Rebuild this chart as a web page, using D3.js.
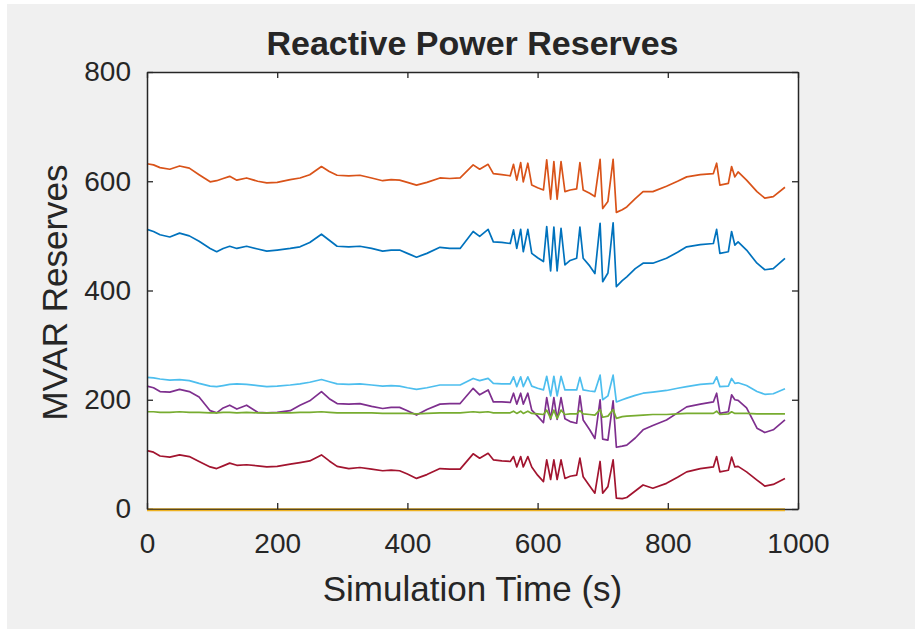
<!DOCTYPE html>
<html>
<head>
<meta charset="utf-8">
<script src="https://cdn.jsdelivr.net/npm/d3@7"></script>
<style>
  html, body { margin: 0; padding: 0; background: #ffffff; }
  svg { display: block; }
  text { font-family: "Liberation Sans", Arial, Helvetica, sans-serif; fill: #262626; }
</style>
</head>
<body>
<svg id="chart" width="915" height="629"></svg>
<script>
// ---------------- DATA ----------------
const chartTitle = "Reactive Power Reserves";
const xLabel = "Simulation Time (s)";
const yLabel = "MVAR Reserves";
const xTicks = [0, 200, 400, 600, 800, 1000];
const yTicks = [0, 200, 400, 600, 800];

const time = [0, 10, 20, 35, 50, 65, 80, 97, 107, 117, 127, 138, 153, 170, 184, 200, 220, 235, 250, 268,
  280, 292, 310, 327, 345, 362, 375, 388, 400, 414, 430, 450, 465, 481, 501, 511, 524, 532, 545, 558,
  563, 568, 574, 578, 585, 591, 600, 609, 614, 620, 625, 630, 636, 642, 650, 660, 665, 670, 680, 688,
  696, 700, 708, 716, 721, 730, 737, 750, 762, 777, 798, 815, 829, 850, 870, 875, 880, 893, 898, 903,
  908, 921, 937, 949, 962, 980];

const seriesBlue = [512, 508, 502, 498, 505, 500, 490, 477, 471, 477, 481, 477, 481, 476, 472, 474, 477, 480, 488, 503,
  492, 481, 480, 481, 477, 472, 474, 474, 468, 461, 468, 479, 477, 477, 508, 499, 512, 489, 488, 486,
  511, 477, 512, 471, 512, 468, 460, 453, 517, 436, 516, 436, 514, 447, 455, 459, 516, 459, 445, 431,
  523, 416, 432, 524, 407, 418, 425, 440, 450, 450, 459, 470, 480, 484, 486, 512, 468, 471, 508, 483,
  489, 474, 450, 438, 440, 459];

const seriesOrange = [632, 630, 625, 622, 628, 624, 612, 599, 601, 605, 609, 602, 606, 600, 597, 598, 603, 606, 612, 627,
  618, 611, 610, 611, 606, 601, 603, 602, 598, 593, 598, 606, 605, 606, 630, 622, 631, 614, 612, 610,
  631, 602, 634, 599, 633, 593, 588, 584, 639, 567, 636, 567, 636, 581, 584, 586, 634, 584, 578, 572,
  640, 550, 563, 640, 543, 548, 553, 568, 581, 581, 591, 600, 608, 612, 614, 633, 593, 596, 627, 608,
  617, 602, 581, 569, 572, 589];

const seriesYellow = time.map(() => 0);

const seriesPurple = [225, 222, 215, 214, 219, 215, 205, 180, 176, 185, 190, 183, 190, 177, 176, 177, 180, 190, 198, 215,
  202, 193, 192, 193, 188, 184, 186, 186, 180, 172, 182, 192, 193, 193, 221, 209, 218, 196, 196, 195,
  212, 192, 212, 192, 212, 181, 170, 158, 204, 164, 204, 164, 204, 165, 160, 157, 207, 163, 145, 129,
  200, 128, 126, 198, 113, 115, 117, 130, 145, 153, 163, 176, 187, 192, 196, 212, 175, 178, 209, 200,
  199, 185, 148, 140, 145, 163];

const seriesGreen = [178, 178, 177, 177, 178, 177, 177, 176, 176, 177, 177, 176, 177, 176, 176, 176, 176, 177, 177, 178,
  177, 176, 176, 176, 176, 175, 175, 175, 175, 174, 175, 176, 176, 176, 178, 177, 178, 176, 176, 176,
  179, 175, 179, 175, 179, 175, 174, 173, 181, 166, 181, 166, 181, 173, 174, 174, 180, 174, 173, 172,
  182, 168, 170, 182, 166, 169, 170, 171, 172, 173, 173, 174, 175, 175, 175, 179, 173, 174, 178, 175,
  175, 175, 174, 174, 174, 174];

const seriesLightBlue = [241, 240, 238, 236, 237, 235, 230, 225, 224, 226, 228, 229, 228, 226, 224, 225, 227, 229, 232, 237,
  233, 229, 228, 229, 227, 225, 226, 225, 222, 219, 222, 227, 227, 227, 239, 235, 239, 230, 229, 229,
  242, 224, 242, 224, 242, 225, 221, 218, 243, 207, 243, 207, 243, 218, 218, 218, 241, 218, 216, 215,
  245, 200, 207, 245, 196, 200, 203, 208, 212, 214, 217, 221, 224, 228, 230, 242, 224, 225, 239, 230,
  231, 226, 215, 210, 211, 220];

const seriesRed = [107, 104, 97, 95, 99, 96, 87, 77, 74, 79, 84, 80, 81, 79, 77, 78, 82, 85, 88, 99,
  88, 78, 74, 76, 73, 70, 71, 70, 64, 56, 63, 74, 73, 73, 101, 93, 102, 90, 88, 87,
  96, 77, 96, 77, 96, 77, 62, 50, 90, 54, 90, 54, 90, 56, 60, 62, 93, 59, 42, 29,
  87, 29, 41, 90, 20, 19, 21, 33, 44, 38, 47, 58, 68, 74, 77, 96, 68, 71, 95, 77,
  78, 68, 53, 42, 45, 56];

const seriesNames = ["Gen 1", "Gen 2", "Gen 3", "Gen 4", "Gen 5", "Gen 6", "Gen 7"];
const seriesList = [seriesBlue, seriesOrange, seriesYellow, seriesPurple, seriesGreen, seriesLightBlue, seriesRed];
const seriesColors = ["#0072BD", "#D95319", "#EDB120", "#7E2F8E", "#77AC30", "#4DBEEE", "#A2142F"];

// ---------------- LAYOUT ----------------
const W = 915, H = 629;
const plot = { left: 147, right: 798, top: 72, bottom: 509 };
const axisColor = "#262626";

const svg = d3.select("#chart");

// figure background (white margins at top/left like the crop)
svg.append("rect").attr("x", 0).attr("y", 0).attr("width", W).attr("height", H).attr("fill", "#ffffff");
svg.append("rect").attr("x", 7).attr("y", 4).attr("width", W - 7).attr("height", H - 4).attr("fill", "#f0f0f0");

// axes area
svg.append("rect")
  .attr("x", plot.left).attr("y", plot.top)
  .attr("width", plot.right - plot.left).attr("height", plot.bottom - plot.top)
  .attr("fill", "#ffffff");

const x = d3.scaleLinear().domain([0, 1000]).range([plot.left, plot.right]);
const y = d3.scaleLinear().domain([0, 800]).range([plot.bottom, plot.top]);

// data lines
const line = d3.line().x((d, i) => x(time[i])).y(d => y(d));
const lineG = svg.append("g");
seriesList.forEach((s, k) => {
  lineG.append("path")
    .datum(s)
    .attr("d", line)
    .attr("fill", "none")
    .attr("stroke", seriesColors[k])
    .attr("stroke-width", 1.7)
    .attr("stroke-linejoin", "round")
    .attr("data-name", seriesNames[k]);
});

// axes with inward ticks
const tickLen = 6;
const gBottom = svg.append("g").attr("transform", `translate(0,${plot.bottom})`)
  .call(d3.axisBottom(x).tickValues(xTicks).tickSizeInner(-tickLen).tickSizeOuter(0).tickPadding(24).tickFormat(d3.format("d")));
const gTop = svg.append("g").attr("transform", `translate(0,${plot.top})`)
  .call(d3.axisTop(x).tickValues(xTicks).tickSizeInner(-tickLen).tickSizeOuter(0).tickFormat(""));
const gLeft = svg.append("g").attr("transform", `translate(${plot.left},0)`)
  .call(d3.axisLeft(y).tickValues(yTicks).tickSizeInner(-tickLen).tickSizeOuter(0).tickPadding(16).tickFormat(d3.format("d")));
const gRight = svg.append("g").attr("transform", `translate(${plot.right},0)`)
  .call(d3.axisRight(y).tickValues(yTicks).tickSizeInner(-tickLen).tickSizeOuter(0).tickFormat(""));

[gBottom, gTop, gLeft, gRight].forEach(g => {
  g.selectAll(".domain").attr("stroke", axisColor).attr("stroke-width", 1.5);
  g.selectAll(".tick line").attr("stroke", axisColor).attr("stroke-width", 1.3);
  g.selectAll(".tick text")
    .attr("fill", axisColor)
    .style("font-family", '"Liberation Sans", Arial, sans-serif')
    .style("font-size", "28px");
});

// redraw zero (yellow) line just on top of the bottom axis, like MATLAB
svg.append("path")
  .datum(seriesYellow)
  .attr("d", d3.line().x((d, i) => x(time[i])).y(d => y(d) + 1.5))
  .attr("fill", "none")
  .attr("stroke", seriesColors[2])
  .attr("stroke-width", 1.7);

// title
svg.append("text")
  .attr("x", (plot.left + plot.right) / 2)
  .attr("y", 55)
  .attr("text-anchor", "middle")
  .style("font-size", "34px")
  .style("font-weight", "bold")
  .attr("fill", "#000000")
  .text(chartTitle);

// x label
svg.append("text")
  .attr("x", (plot.left + plot.right) / 2)
  .attr("y", 601)
  .attr("text-anchor", "middle")
  .style("font-size", "35px")
  .attr("fill", axisColor)
  .text(xLabel);

// y label
svg.append("text")
  .attr("transform", `translate(67,${(plot.top + plot.bottom) / 2 + 2}) rotate(-90)`)
  .attr("text-anchor", "middle")
  .style("font-size", "35px")
  .attr("fill", axisColor)
  .text(yLabel);
</script>
</body>
</html>
